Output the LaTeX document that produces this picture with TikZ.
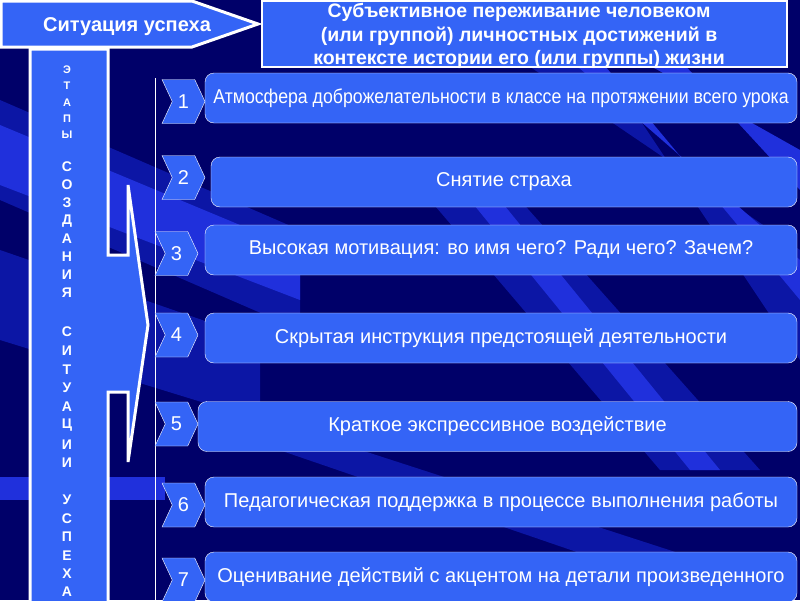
\documentclass[tikz,border=0pt]{standalone}
\usepackage{fontspec}
\usepackage{graphicx}
\setmainfont{Liberation Sans}
\usetikzlibrary{shapes.symbols}
\definecolor{navy}{RGB}{0,0,105}
\definecolor{raylight}{RGB}{32,48,220}
\definecolor{raymid}{RGB}{12,22,165}
\definecolor{boxblue}{RGB}{52,100,246}
\tikzset{
  item/.style={draw=white,fill=boxblue,rounded corners=9pt,text=white,font=\fontsize{20}{22}\selectfont,minimum height=50pt,inner sep=0pt},
  num/.style={signal,signal to=east,signal from=west,signal pointer angle=130,draw=white,fill=boxblue,text=white,font=\fontsize{20}{20}\selectfont,minimum width=43pt,minimum height=44pt,inner sep=0pt},
  letter/.style={text=white,font=\bfseries\fontsize{14}{14}\selectfont,inner sep=0pt},
  smallletter/.style={letter,font=\bfseries\fontsize{11}{11}\selectfont}
}
\begin{document}
\begin{tikzpicture}[x=1pt,y=-1pt]
  \useasboundingbox (0,0) rectangle (800,600);
  \fill[navy] (0,0) rectangle (800,600);
  \fill[raymid] (0,100) -- (0,200) -- (300,330) -- (300,230) -- cycle;
  \fill[raylight] (0,125) -- (0,185) -- (300,300) -- (300,250) -- cycle;
  \fill[raymid] (0,250) -- (0,340) -- (260,420) -- (260,340) -- cycle;
  \fill[raylight] (0,477) rectangle (165,500);
  \fill[raymid] (520,60) -- (600,60) -- (800,360) -- (800,250) -- cycle;
  \fill[raylight] (570,60) -- (600,60) -- (800,300) -- (800,260) -- cycle;
  \fill[raylight] (640,60) -- (680,60) -- (800,190) -- (800,150) -- cycle;
  \fill[raymid] (430,200) -- (520,200) -- (760,470) -- (660,470) -- cycle;
  \fill[raylight] (470,200) -- (500,200) -- (720,470) -- (690,470) -- cycle;
  \fill[raymid] (250,440) -- (330,440) -- (700,560) -- (600,560) -- cycle;

  \draw[white,line width=3pt,fill=boxblue] (1,1) -- (192,1) -- (258,24) -- (192,47) -- (1,47) -- cycle;
  \node[text=white,font=\bfseries\fontsize{20}{20}\selectfont] (situation) at (127,27) {Ситуация успеха};
  \draw[white,line width=1.5pt,fill=boxblue] (262,1) rectangle (787,67);
  \node[text=white,align=center,font=\bfseries\fontsize{19.5}{23.5}\selectfont] (goal) at (519,36) {Субъективное переживание человеком\\(или группой) личностных достижений в\\контексте истории его (или группы) жизни};

  \draw[white,line width=3pt,fill=boxblue] (30,49) -- (108,49) -- (108,255) -- (128,255) -- (128,185) -- (148,325) -- (128,462) -- (128,392) -- (108,392) -- (108,603) -- (30,603) -- cycle;
  \foreach \l [count=\i] in {Э,Т,А,П,Ы}
    \node[smallletter] (e\i) at (67,{70+16.2*(\i-1)}) {\l};
  \foreach \l [count=\i] in {С,О,З,Д,А,Н,И,Я}
    \node[letter] (s\i) at (67,{167+17.9*(\i-1)}) {\l};
  \foreach \l [count=\i] in {С,И,Т,У,А,Ц,И,И}
    \node[letter] (t\i) at (67,{332+18.7*(\i-1)}) {\l};
  \foreach \l [count=\i] in {У,С,П,Е,Х,А}
    \node[letter] (u\i) at (67,{500+18.4*(\i-1)}) {\l};

  \draw[white,line width=0.8pt] (155,78) -- (155,600);

  \node[item,minimum width=592pt] (b1) at (501,98) {\scalebox{0.885}[1]{Атмосфера доброжелательности в классе на протяжении всего урока}};
  \node[item,minimum width=586pt] (b2) at (504,182) {Снятие страха};
  \node[item,minimum width=592pt] (b3) at (501,250) {Высокая мотивация: во имя чего? Ради чего? Зачем?};
  \node[item,minimum width=592pt] (b4) at (501,338) {Скрытая инструкция предстоящей деятельности};
  \node[item,minimum width=599pt] (b5) at (497.5,426.5) {Краткое экспрессивное воздействие};
  \node[item,minimum width=592pt] (b6) at (501,502) {Педагогическая поддержка в процессе выполнения работы};
  \node[item,minimum width=592pt] (b7) at (501,577) {Оценивание действий с акцентом на детали произведенного};

  \node[num] (n1) at (183.5,101.5) {1};
  \node[num] (n2) at (183.5,177.5) {2};
  \node[num] (n3) at (176.5,253.5) {3};
  \node[num] (n4) at (176.5,335) {4};
  \node[num] (n5) at (176.5,424) {5};
  \node[num] (n6) at (183.5,505) {6};
  \node[num] (n7) at (183.5,580) {7};
\end{tikzpicture}
\end{document}
